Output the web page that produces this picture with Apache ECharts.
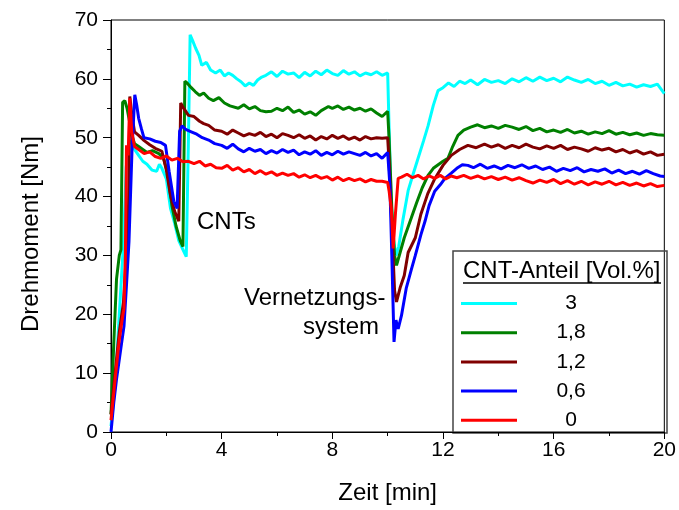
<!DOCTYPE html>
<html>
<head>
<meta charset="utf-8">
<script src="https://cdn.jsdelivr.net/npm/echarts@6/dist/echarts.min.js"></script>
<style>
  html, body { margin: 0; padding: 0; background: #fff; }
  #chart { width: 679px; height: 510px; }
</style>
</head>
<body>
<div id="chart"></div>
<script>
// legend labels (CNT-Anteil [Vol.%])
const names = ['3', '1,8', '1,2', '0,6', '0'];
const colors = ['#00ffff', '#008000', '#800000', '#0000ff', '#ff0000'];

// 3 Vol.%
const tCyan = [0, 0.15, 0.3, 0.45, 0.55, 0.65, 0.72, 0.85, 1.0, 1.15, 1.3, 1.48, 1.65, 1.75, 1.84, 2.0, 2.15, 2.3, 2.45, 2.6, 2.72, 2.8, 2.86, 2.95, 3.06, 3.18, 3.28, 3.45, 3.6, 3.78, 3.95, 4.1, 4.25, 4.4, 4.55, 4.7, 4.85, 5.0, 5.15, 5.3, 5.45, 5.6, 5.8, 6.0, 6.2, 6.4, 6.6, 6.8, 7.0, 7.2, 7.4, 7.6, 7.8, 8.0, 8.2, 8.4, 8.6, 8.8, 9.0, 9.2, 9.4, 9.6, 9.8, 10.0, 10.05, 10.12, 10.2, 10.3, 10.4, 10.55, 10.74, 10.9, 11.1, 11.3, 11.46, 11.65, 11.82, 12.0, 12.2, 12.4, 12.6, 12.8, 13.0, 13.25, 13.5, 13.75, 14.0, 14.25, 14.5, 14.75, 15.0, 15.25, 15.5, 15.75, 16.0, 16.25, 16.5, 16.75, 17.0, 17.25, 17.5, 17.75, 18.0, 18.25, 18.5, 18.75, 19.0, 19.25, 19.5, 19.75, 20.0];
const vCyan = [1, 8, 20, 32, 45, 49, 49.5, 48, 47, 46, 45.5, 44.5, 44.3, 45.5, 44.8, 43, 38, 35.5, 32.5, 31, 29.8, 50, 67.5, 66.5, 65.2, 64, 62.3, 62.8, 61.5, 61, 61.5, 60.5, 61, 60.6, 60, 59.5, 58.8, 59.3, 58.9, 59.8, 60.3, 60.6, 61.2, 60.4, 61.3, 60.8, 61, 60.2, 61.1, 60.5, 61.3, 60.7, 61.5, 60.9, 60.6, 61.4, 60.8, 61.2, 60.5, 61, 60.7, 61.2, 60.6, 61, 52, 40, 33, 30, 31.5, 36, 41, 43.5, 46.5, 49.5, 52, 55.5, 58, 58.5, 59.3, 58.7, 59.6, 59.2, 59.8, 59, 59.9, 59.4, 59.7, 59.2, 60, 59.5, 60.2, 59.6, 60.3, 59.7, 60.1, 59.5, 60.3, 59.8, 59.4, 59.9, 59.2, 59.6, 58.9, 59.4, 58.8, 59.1, 58.6, 59, 58.7, 59.1, 57.5];

// 1,8 Vol.%
const tGreen = [0, 0.1, 0.2, 0.3, 0.36, 0.42, 0.5, 0.58, 0.66, 0.75, 0.85, 1.0, 1.15, 1.3, 1.5, 1.73, 1.9, 2.05, 2.2, 2.35, 2.5, 2.6, 2.67, 2.75, 2.9, 3.05, 3.2, 3.35, 3.53, 3.7, 3.9, 4.1, 4.3, 4.6, 4.8, 5.0, 5.2, 5.4, 5.6, 5.8, 6.0, 6.2, 6.4, 6.6, 6.8, 7.0, 7.2, 7.4, 7.6, 7.86, 8.0, 8.2, 8.4, 8.6, 8.8, 9.0, 9.2, 9.4, 9.6, 9.8, 10.0, 10.05, 10.15, 10.25, 10.32, 10.45, 10.6, 10.85, 11.05, 11.25, 11.46, 11.65, 11.85, 12.0, 12.18, 12.35, 12.54, 12.75, 13.0, 13.25, 13.5, 13.75, 14.0, 14.25, 14.5, 14.75, 15.0, 15.25, 15.5, 15.75, 16.0, 16.25, 16.5, 16.75, 17.0, 17.25, 17.5, 17.75, 18.0, 18.25, 18.5, 18.75, 19.0, 19.25, 19.5, 19.75, 20.0];
const vGreen = [3, 15, 26, 30, 31, 56, 56.3, 55, 53, 50.5, 49, 48.5, 48, 47.5, 47.8, 47.3, 46.5, 44, 38.5, 35, 32.5, 31.5, 59.6, 59.3, 58.5, 57.8, 57.2, 57.6, 56.7, 56.3, 56.8, 55.9, 55.4, 55, 55.6, 54.9, 55.3, 54.6, 54.4, 54.5, 55, 54.6, 55.2, 54.3, 54.7, 54, 54.4, 53.8, 54.6, 55.3, 55, 55.4, 54.8, 55.2, 54.7, 55, 54.5, 54.9, 54.2, 53.6, 54.5, 50, 38, 30, 28.3, 30.5, 33, 36.3, 39, 41.5, 43.6, 44.8, 45.5, 46, 46.5, 48.5, 50.4, 51.3, 51.8, 52.2, 51.7, 52, 51.6, 52.1, 51.8, 51.4, 51.9, 51.2, 51.6, 51, 51.3, 50.9, 51.4, 50.8, 51.1, 50.6, 51, 50.7, 51.2, 50.6, 50.9, 50.5, 50.8, 50.4, 50.7, 50.5, 50.4];

// 1,2 Vol.%
const tBrown = [0, 0.15, 0.3, 0.45, 0.55, 0.62, 0.68, 0.75, 0.85, 1.0, 1.2, 1.4, 1.6, 1.84, 2.0, 2.15, 2.3, 2.45, 2.52, 2.6, 2.8, 3.0, 3.2, 3.35, 3.53, 3.75, 4.0, 4.2, 4.4, 4.6, 4.8, 5.0, 5.2, 5.4, 5.6, 5.8, 6.0, 6.2, 6.4, 6.6, 6.8, 7.0, 7.2, 7.4, 7.6, 7.8, 8.0, 8.2, 8.4, 8.6, 8.8, 9.0, 9.2, 9.4, 9.6, 9.8, 10.0, 10.05, 10.15, 10.25, 10.32, 10.45, 10.6, 10.74, 11.0, 11.2, 11.45, 11.7, 12.0, 12.3, 12.6, 12.9, 13.2, 13.5, 13.75, 14.0, 14.25, 14.5, 14.75, 15.0, 15.25, 15.5, 15.75, 16.0, 16.25, 16.5, 16.75, 17.0, 17.25, 17.5, 17.75, 18.0, 18.25, 18.5, 18.75, 19.0, 19.25, 19.5, 19.75, 20.0];
const vBrown = [3, 10, 17, 22, 30, 33, 57, 54, 51, 50.4, 49.5, 48.8, 48.2, 47.7, 44.5, 40.2, 37.5, 35.8, 55.9, 55.2, 53.8, 53.6, 52.8, 52.4, 52.1, 51.3, 51.1, 50.6, 51.3, 50.8, 50.3, 50.7, 50.4, 50.9, 50.2, 50.6, 50, 50.7, 50.4, 50, 50.5, 49.9, 50.3, 49.6, 50.2, 49.8, 50.4, 49.9, 50.3, 49.7, 50.1, 49.6, 50.2, 49.8, 50, 49.9, 50, 46, 35, 24, 22.1, 24.5, 26.6, 30.5, 33, 37, 40.5, 43, 45.3, 47, 48, 48.7, 48.3, 48.9, 48.4, 48.8, 48.2, 48.7, 48.3, 48.9, 48.4, 48.1, 48.6, 48.2, 48.7, 48, 48.4, 48.1, 47.7, 48.3, 47.9, 48.2, 47.6, 48, 47.4, 47.8, 47.2, 47.6, 47, 47.2];

// 0,6 Vol.%
const tBlue = [0, 0.1, 0.2, 0.35, 0.47, 0.56, 0.65, 0.76, 0.86, 0.93, 1.0, 1.1, 1.19, 1.4, 1.6, 1.8, 1.97, 2.1, 2.27, 2.39, 2.48, 2.57, 2.7, 2.9, 3.1, 3.3, 3.53, 3.75, 4.0, 4.2, 4.4, 4.6, 4.8, 5.0, 5.2, 5.4, 5.6, 5.8, 6.0, 6.2, 6.4, 6.6, 6.8, 7.0, 7.2, 7.4, 7.6, 7.8, 8.0, 8.2, 8.4, 8.6, 8.8, 9.0, 9.2, 9.4, 9.6, 9.8, 10.0, 10.08, 10.15, 10.23, 10.3, 10.38, 10.5, 10.67, 10.85, 11.0, 11.2, 11.35, 11.5, 11.7, 11.9, 12.07, 12.3, 12.5, 12.7, 12.9, 13.1, 13.35, 13.6, 13.85, 14.1, 14.35, 14.6, 14.85, 15.1, 15.35, 15.6, 15.85, 16.1, 16.35, 16.6, 16.85, 17.1, 17.35, 17.6, 17.85, 18.1, 18.35, 18.6, 18.85, 19.1, 19.35, 19.6, 19.85, 20.0];
const vBlue = [0, 5, 9, 14, 18, 25, 32.4, 48, 57.3, 55.5, 53.3, 51.5, 50, 49.8, 49.4, 49.2, 48.7, 44.3, 39.2, 38, 51.1, 52, 51.4, 51, 50.6, 50, 49.6, 49, 48.7, 48.2, 48.9, 48.1, 47.6, 48.2, 47.7, 48, 47.3, 47.8, 47.4, 48, 47.5, 47.9, 47.1, 47.6, 47.2, 47.8, 47, 47.5, 47.1, 47.7, 47.2, 47.6, 47.3, 47, 47.5, 46.9, 47.3, 46.5, 47.5, 42, 30, 15.3, 19, 17.5, 19.8, 24.4, 27.5, 30, 33.5, 35.8, 38.5, 40.9, 42, 43.1, 44, 44.8, 45.4, 45.3, 44.9, 45.5, 44.8, 45.2, 44.7, 45.3, 44.9, 45.4, 44.8, 45.2, 44.6, 45, 44.3, 44.8, 44.4, 44.9, 44.2, 44.6, 44.3, 44.7, 44, 44.5, 43.9, 44.3, 43.8, 44.4, 43.9, 43.5, 43.4];

// 0 Vol.%
const tRed = [0, 0.15, 0.29, 0.4, 0.47, 0.52, 0.56, 0.62, 0.68, 0.75, 0.85, 1.0, 1.2, 1.4, 1.6, 1.8, 2.0, 2.2, 2.4, 2.6, 2.8, 3.0, 3.2, 3.4, 3.6, 3.8, 4.0, 4.2, 4.4, 4.6, 4.8, 5.0, 5.2, 5.4, 5.6, 5.8, 6.0, 6.2, 6.4, 6.6, 6.8, 7.0, 7.2, 7.4, 7.6, 7.8, 8.0, 8.2, 8.4, 8.6, 8.8, 9.0, 9.2, 9.4, 9.6, 9.8, 10.0, 10.05, 10.13, 10.2, 10.28, 10.38, 10.5, 10.7, 10.9, 11.1, 11.3, 11.5, 11.7, 11.9, 12.1, 12.3, 12.5, 12.75, 13.0, 13.25, 13.5, 13.75, 14.0, 14.25, 14.5, 14.75, 15.0, 15.25, 15.5, 15.75, 16.0, 16.25, 16.5, 16.75, 17.0, 17.25, 17.5, 17.75, 18.0, 18.25, 18.5, 18.75, 19.0, 19.25, 19.5, 19.75, 20.0];
const vRed = [2, 9, 15.3, 19, 21, 30, 48.7, 47, 56.7, 51, 48.5, 48, 47.3, 47.6, 46.8, 46.5, 46.9, 46.2, 46.5, 45.9, 46, 45.6, 46, 45.2, 45.5, 44.9, 44.8, 45.3, 44.5, 44.9, 44.2, 44.6, 43.9, 44.4, 43.8, 44.2, 43.6, 44, 43.6, 43.9, 43.3, 43.7, 43.2, 43.6, 43.1, 43.4, 42.8, 43.3, 42.7, 43.1, 42.7, 43, 42.5, 42.9, 42.6, 42.6, 42.4, 41, 38, 31.2, 37, 43.1, 43.3, 43.8, 43.2, 43.6, 43, 43.5, 43.1, 43.6, 43, 43.5, 43.2, 43.6, 43.1, 43.5, 43, 43.4, 42.9, 43.3, 42.8, 43.2, 42.7, 42.3, 42.8, 42.4, 42.9, 42.2, 42.7, 42.1, 42.6, 42, 42.5, 42.1, 42.6, 42, 42.4, 41.9, 42.3, 41.8, 42.2, 41.7, 41.9];

const xTicks = [0, 4, 8, 12, 16, 20];
const yTicks = [0, 10, 20, 30, 40, 50, 60, 70];

const times = [tCyan, tGreen, tBrown, tBlue, tRed];
const values = [vCyan, vGreen, vBrown, vBlue, vRed];

const font = 'Liberation Sans, Arial, sans-serif';

const chart = echarts.init(document.getElementById('chart'), null, { renderer: 'canvas' });

const option = {
    animation: false,
    backgroundColor: '#fff',
    grid: {
        left: 111,
        right: 12,
        top: 20,
        bottom: 77,
        show: true,
        borderColor: '#000',
        borderWidth: 1
    },
    xAxis: {
        type: 'value',
        min: xTicks[0],
        max: xTicks[xTicks.length - 1],
        interval: 4,
        name: 'Zeit [min]',
        nameLocation: 'middle',
        nameGap: 49,
        nameTextStyle: { fontFamily: font, fontSize: 24, color: '#000' },
        axisLine: { show: true, onZero: false, lineStyle: { color: '#000', width: 1 } },
        axisTick: { show: true, length: 7, lineStyle: { color: '#000' } },
        minorTick: { show: true, splitNumber: 2, length: 4, lineStyle: { color: '#000' } },
        axisLabel: { fontFamily: font, fontSize: 21, color: '#000', margin: 8 },
        splitLine: { show: false }
    },
    yAxis: {
        type: 'value',
        min: yTicks[0],
        max: yTicks[yTicks.length - 1],
        interval: 10,
        name: 'Drehmoment [Nm]',
        nameLocation: 'middle',
        nameGap: 68,
        nameTextStyle: { fontFamily: font, fontSize: 24, color: '#000', padding: [0, 16, 0, 0] },
        axisLine: { show: true, lineStyle: { color: '#000', width: 1 } },
        axisTick: { show: true, length: 8, lineStyle: { color: '#000' } },
        minorTick: { show: true, splitNumber: 2, length: 4, lineStyle: { color: '#000' } },
        axisLabel: { fontFamily: font, fontSize: 21, color: '#000', margin: 13 },
        splitLine: { show: false }
    },
    legend: {
        orient: 'vertical',
        left: 461,
        top: 293,
        padding: 0,
        itemWidth: 56,
        itemHeight: 3,
        itemGap: 8.2,
        icon: 'rect',
        data: names,
        formatter: n => '{a|' + n + '}',
        textStyle: {
            fontFamily: font,
            color: '#000',
            rich: { a: { width: 98, align: 'center', fontSize: 21, lineHeight: 20, fontFamily: font } }
        }
    },
    graphic: [
        {
            type: 'rect',
            shape: { x: 453, y: 251, width: 214, height: 182 },
            style: { fill: 'none', stroke: '#444', lineWidth: 1.5 },
            silent: true
        },
        {
            type: 'text',
            left: 463,
            top: 259,
            style: { text: 'CNT-Anteil [Vol.%]', font: '24px ' + font, fill: '#000' }
        },
        {
            type: 'line',
            shape: { x1: 463, y1: 283, x2: 661, y2: 283 },
            style: { stroke: '#000', lineWidth: 1.5 }
        },
        {
            type: 'text',
            left: 197,
            top: 210,
            style: { text: 'CNTs', font: '24px ' + font, fill: '#000' }
        },
        {
            type: 'text',
            left: 244,
            top: 286,
            style: { text: 'Vernetzungs-', font: '24px ' + font, fill: '#000' }
        },
        {
            type: 'text',
            left: 303,
            top: 315,
            style: { text: 'system', font: '24px ' + font, fill: '#000' }
        }
    ],
    series: names.map((n, i) => ({
        name: n,
        type: 'line',
        showSymbol: false,
        symbol: 'none',
        color: colors[i],
        lineStyle: { color: colors[i], width: 3 },
        data: times[i].map((t, k) => [t, values[i][k]])
    }))
};

chart.setOption(option);
</script>
</body>
</html>
